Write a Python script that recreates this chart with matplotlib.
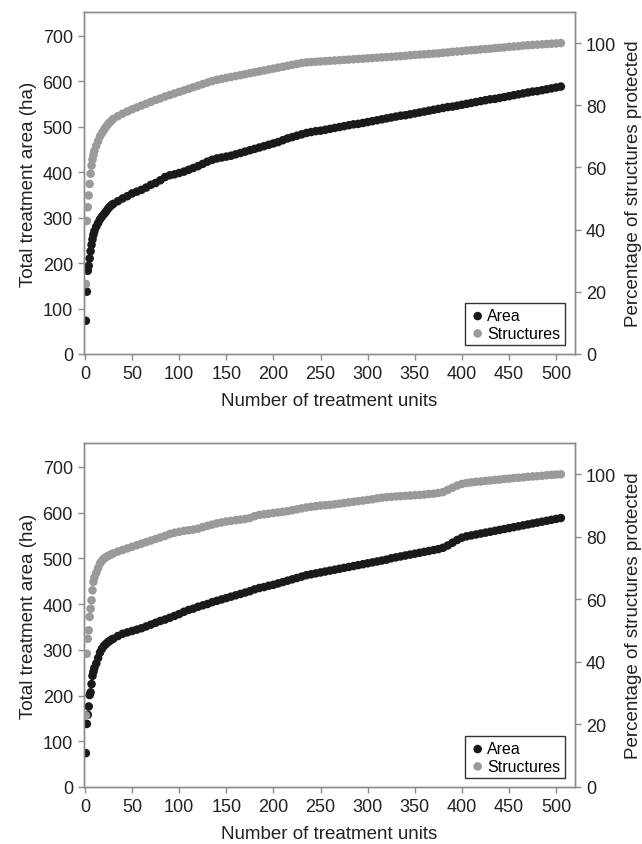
import matplotlib
matplotlib.use("Agg")
import matplotlib.pyplot as plt

plt.rcParams["font.family"] = ["Liberation Sans", "DejaVu Sans"]

# number of treatment units (sampled)
units = [1, 2, 3, 4, 5, 6, 7, 8, 9, 10, 12, 14, 16, 18, 20, 22, 24, 26, 28, 30] + list(range(35, 506, 5))

# top panel
top_area = [73, 137, 183, 194, 210, 226, 240, 252, 262, 270, 280, 288, 296, 302, 307, 312, 318, 323, 327, 330,
            336, 342, 347, 353, 357, 361, 366, 372, 376, 382, 389, 393, 395, 398, 401, 405, 409, 413, 418, 423,
            427, 430, 432, 434, 436, 439, 442, 445, 448, 451, 454, 457, 460, 463, 466, 470, 474, 477, 480, 483,
            486, 488, 490, 491, 493, 495,
            497, 499, 501, 503, 505, 506, 508, 510, 512, 514, 516, 518, 520, 522, 524, 525, 527, 529, 531, 533,
            535, 537, 539, 541, 543, 544, 546, 548, 550, 552, 554, 556, 558, 560, 561, 563, 565, 567, 569, 571,
            573, 575, 577, 578, 580, 582, 584, 586, 588]
top_struct = [22.5, 42.8, 47.2, 51, 54.7, 58, 60.6, 62.5, 64, 65.3, 67, 68.5, 70, 71, 72, 72.9, 73.7, 74.4, 75, 75.6,
              76.5, 77.3, 78, 78.7, 79.3, 79.9, 80.5, 81.1, 81.7, 82.2, 82.8, 83.3, 83.8, 84.3, 84.8, 85.3, 85.8,
              86.3, 86.8, 87.3, 87.8, 88.2, 88.5, 88.8, 89.1, 89.4, 89.7, 90.0, 90.3, 90.6, 90.9, 91.2, 91.5, 91.8,
              92.1, 92.4, 92.7, 93.0, 93.3, 93.6, 93.8, 93.9, 94.0, 94.1, 94.2, 94.3,
              94.4, 94.5, 94.6, 94.7, 94.8, 94.9, 95.0, 95.1, 95.2, 95.3, 95.4, 95.5, 95.6, 95.7, 95.8, 95.9, 96.1,
              96.2, 96.3, 96.4, 96.5, 96.6, 96.7, 96.9, 97.0, 97.2, 97.3, 97.4, 97.6, 97.7, 97.8, 98.0, 98.1, 98.2,
              98.4, 98.5, 98.6, 98.8, 98.9, 99.0, 99.2, 99.3, 99.4, 99.5, 99.6, 99.7, 99.8, 99.9, 100.0]

# bottom panel
bot_area = [74, 138, 158, 176, 201, 207, 225, 243, 252, 260, 270, 282, 294, 302, 308, 312, 316, 319, 322, 324,
            330, 335, 338, 341, 344, 347, 351, 355, 359, 363, 366, 370, 374, 378, 383, 387, 390, 394, 397, 400,
            404, 407, 410, 413, 416, 419, 422, 425, 428, 432, 435, 437, 440, 442, 445, 448, 451, 454, 457, 460,
            463, 465, 467, 469, 471, 473,
            475, 477, 479, 481, 483, 485, 487, 489, 491, 493, 495, 497, 500, 502, 504, 506, 508, 510, 512, 514,
            516, 518, 520, 523, 528, 534, 540, 545, 548, 550, 552, 554, 556, 558, 560, 562, 564, 566, 568, 570,
            572, 574, 576, 578, 580, 582, 584, 586, 588]
bot_struct = [22.9, 42.6, 47.4, 50.1, 54.4, 57, 59.7, 62.9, 65.6, 67, 68.5, 70, 71.5, 72.3, 73, 73.4, 73.8, 74.1, 74.4, 74.7,
              75.3, 75.8, 76.3, 76.8, 77.3, 77.8, 78.3, 78.8, 79.3, 79.8, 80.3, 80.9, 81.3, 81.6, 81.9, 82.1, 82.3,
              82.6, 83.1, 83.5, 83.9, 84.3, 84.6, 84.9, 85.1, 85.3, 85.5, 85.7, 86.0, 86.6, 87.0, 87.2, 87.4, 87.6,
              87.8, 88.0, 88.2, 88.5, 88.8, 89.1, 89.4, 89.6, 89.8, 90.0, 90.1, 90.2,
              90.4, 90.6, 90.8, 91.0, 91.2, 91.4, 91.6, 91.8, 92.0, 92.3, 92.5, 92.7, 92.8, 92.9, 93.0, 93.1, 93.2,
              93.3, 93.4, 93.5, 93.7, 93.8, 94.0, 94.3, 95.0, 95.7, 96.4, 96.9, 97.2, 97.4, 97.6, 97.7, 97.9, 98.0,
              98.2, 98.3, 98.5, 98.6, 98.8, 98.9, 99.0, 99.2, 99.3, 99.4, 99.5, 99.7, 99.8, 99.9, 100.0]

black = "#1a1a1a"
grey = "#9a9a9a"
spine_col = "#8c8c8c"
text_col = "#222222"

fig = plt.figure(figsize=(6.42, 8.45), dpi=100)


def panel(rect, area, struct):
    ax = fig.add_axes(rect)
    ax2 = ax.twinx()
    # structures go on the right-hand (percentage) axis
    ax.scatter(units, area, s=38, color=black, edgecolors="none", label="Area", zorder=3)
    ax2.scatter(units, struct, s=38, color=grey, edgecolors="none", label="Structures", zorder=3)

    ax.set_xlim(-1, 520)
    ax.set_ylim(0, 752)
    ax2.set_ylim(0, 110)
    ax.set_xticks(range(0, 501, 50))
    ax.set_yticks(range(0, 701, 100))
    ax2.set_yticks(range(0, 101, 20))

    for a in (ax, ax2):
        for sp in a.spines.values():
            sp.set_color(spine_col)
            sp.set_linewidth(1.0)
        a.tick_params(colors=spine_col, labelcolor=text_col, labelsize=13, length=4, width=1, pad=4)

    ax.set_xlabel("Number of treatment units", fontsize=13.5, color=text_col, labelpad=7)
    ax.set_ylabel("Total treatment area (ha)", fontsize=13.5, color=text_col, labelpad=4)
    ax2.set_ylabel("Percentage of structures protected", fontsize=13.5, color=text_col,
                   rotation=90, labelpad=6)

    h1, l1 = ax.get_legend_handles_labels()
    h2, l2 = ax2.get_legend_handles_labels()
    leg = ax2.legend(h1 + h2, l1 + l2, loc="lower right", fontsize=11.5, frameon=True, fancybox=False,
                     borderpad=0.3, handletextpad=0.1, handlelength=1.0, labelspacing=0.15,
                     borderaxespad=0, bbox_to_anchor=(0.98, 0.025))
    leg.get_frame().set_edgecolor("black")
    leg.get_frame().set_linewidth(1.0)
    return ax, ax2


panel([84 / 642, 1 - 355 / 845, 491 / 642, 342 / 845], top_area, top_struct)
panel([84 / 642, 1 - 788 / 845, 491 / 642, 344 / 845], bot_area, bot_struct)

fig.savefig("out.png", dpi=100)
